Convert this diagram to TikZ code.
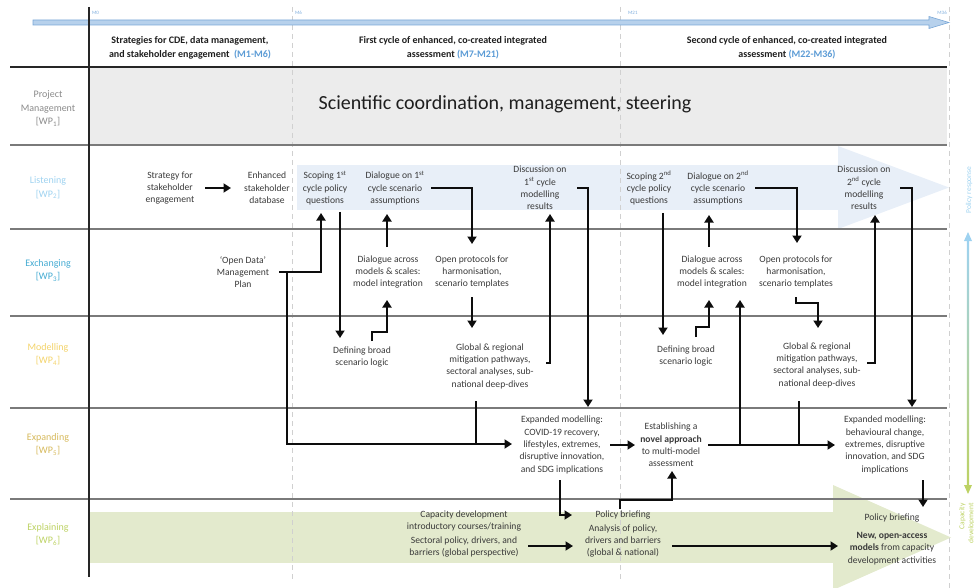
\documentclass[tikz,border=0pt]{standalone}
\usepackage{fontspec}
\setmainfont{Carlito}
\usetikzlibrary{arrows.meta,calc}
\definecolor{txt}{HTML}{3A3A3A}
\definecolor{hdrtxt}{HTML}{1E1E1E}
\definecolor{mblue}{HTML}{5B9BD5}
\definecolor{monthblue}{HTML}{7FAEDD}
\definecolor{tlfill}{HTML}{B7D1EC}
\definecolor{tldraw}{HTML}{7AA7D6}
\definecolor{rulegray}{HTML}{7A7A7A}
\definecolor{dashgray}{HTML}{D0D0D0}
\definecolor{mgmtfill}{HTML}{ECECEC}
\definecolor{blueband}{HTML}{E8EFF8}
\definecolor{greenband}{HTML}{E3EACD}
\definecolor{arrblk}{HTML}{0D0D0D}
\definecolor{cpm}{HTML}{8A8A8A}
\definecolor{clis}{HTML}{9ED2F0}
\definecolor{cexc}{HTML}{45ABD2}
\definecolor{cmod}{HTML}{F3D36A}
\definecolor{cexp}{HTML}{D6B95C}
\definecolor{cexl}{HTML}{BDD264}
\tikzset{
  lab/.style={font=\fontsize{9.6}{12.3}\selectfont, text=txt, align=center, inner sep=0pt},
  wplab/.style={font=\fontsize{10}{13.5}\selectfont, align=center, inner sep=0pt},
  hdr/.style={font=\bfseries\fontsize{10}{14}\selectfont, text=hdrtxt, align=center, inner sep=0pt},
  arr/.style={line width=2.5pt, draw=arrblk, -{Triangle[length=7.5pt,width=9pt]}},
  ln/.style={line width=2.5pt, draw=arrblk},
  rowrule/.style={line width=1.3pt, draw=rulegray},
  vdash/.style={draw=dashgray, line width=0.8pt, dash pattern=on 5pt off 4pt},
  month/.style={font=\fontsize{5}{6}\selectfont, text=monthblue, inner sep=0pt},
  sidelab/.style={font=\fontsize{7.5}{9}\selectfont, inner sep=0pt, rotate=90}
}
\begin{document}
\begin{tikzpicture}[x=1pt,y=-1pt]
\useasboundingbox (0,0) rectangle (974,588);
% background fills
\fill[mgmtfill] (89,68) rectangle (947,145);
\fill[blueband] (297,165) rectangle (838,210);
\fill[blueband] (838,146) -- (949,187.5) -- (838,229) -- cycle;
\fill[greenband] (89,512) rectangle (833,563);
\fill[greenband] (833,485) -- (951,537.5) -- (833,590) -- cycle;
% dashed milestones
\draw[vdash] (292,7) -- (292,582);
\draw[vdash] (620,7) -- (620,582);
\draw[vdash] (949,7) -- (949,588);
% timeline
\draw[tldraw, fill=tlfill, line width=0.6pt] (33,20) -- (929,20) -- (929,16.5) -- (949,22.5) -- (929,28.5) -- (929,25) -- (33,25) -- cycle;
\node[month, anchor=west] (m0) at (92,13) {M0};
\node[month, anchor=west] (m6) at (295,13) {M6};
\node[month, anchor=west] (m21) at (628,13) {M21};
\node[month, anchor=east] (m36) at (947,13) {M36};
% rules
\draw[line width=1.6pt, draw=black!85] (10,67) -- (947,67);
\draw[rowrule] (10,145) -- (947,145);
\draw[rowrule] (10,229) -- (947,229);
\draw[rowrule] (10,316) -- (947,316);
\draw[rowrule] (10,408) -- (947,408);
\draw[rowrule] (10,499) -- (947,499);
\draw[line width=1.8pt, draw=black!85] (89,7) -- (89,577);
% headers
\node[hdr] (h1) at (190,48) {Strategies for CDE, data management,\\and stakeholder engagement~~\textcolor{mblue}{(M1-M6)}};
\node[hdr] (h2) at (453,48) {First cycle of enhanced, co-created integrated\\assessment \textcolor{mblue}{(M7-M21)}};
\node[hdr] (h3) at (787,48) {Second cycle of enhanced, co-created integrated\\assessment \textcolor{mblue}{(M22-M36)}};
% WP labels
\node[wplab, text=cpm] (wp1) at (48,108.5) {Project\\Management\\{[}WP\textsubscript{1}{]}};
\node[wplab, text=clis] (wp2) at (48,188) {Listening\\{[}WP\textsubscript{2}{]}};
\node[wplab, text=cexc] (wp3) at (48,270.5) {Exchanging\\{[}WP\textsubscript{3}{]}};
\node[wplab, text=cmod] (wp4) at (48,354.5) {Modelling\\{[}WP\textsubscript{4}{]}};
\node[wplab, text=cexp] (wp5) at (48,444.5) {Expanding\\{[}WP\textsubscript{5}{]}};
\node[wplab, text=cexl] (wp6) at (48,534.5) {Explaining\\{[}WP\textsubscript{6}{]}};
% management
\node[font=\fontsize{20}{24}\selectfont, text=hdrtxt, inner sep=0pt] (sci) at (505,104) {Scientific coordination, management, steering};
% listening
\node[lab] (strat) at (170,188) {Strategy for\\stakeholder\\engagement};
\node[lab] (enh) at (267,188) {Enhanced\\stakeholder\\database};
\node[lab] (scop1) at (325,188) {Scoping 1\textsuperscript{st}\\cycle policy\\questions};
\node[lab] (dial1) at (395,188) {Dialogue on 1\textsuperscript{st}\\cycle scenario\\assumptions};
\node[lab] (disc1) at (540,188) {Discussion on\\1\textsuperscript{st} cycle\\modelling\\results};
\node[lab] (scop2) at (649,188) {Scoping 2\textsuperscript{nd}\\cycle policy\\questions};
\node[lab] (dial2) at (718,188) {Dialogue on 2\textsuperscript{nd}\\cycle scenario\\assumptions};
\node[lab] (disc2) at (864,188) {Discussion on\\2\textsuperscript{nd} cycle\\modelling\\results};
% exchanging
\node[lab] (odm) at (243,272) {`Open Data'\\Management\\Plan};
\node[lab] (across1) at (388,272) {Dialogue across\\models \& scales:\\model integration};
\node[lab] (proto1) at (472,272) {Open protocols for\\harmonisation,\\scenario templates};
\node[lab] (across2) at (712,272) {Dialogue across\\models \& scales:\\model integration};
\node[lab] (proto2) at (796,272) {Open protocols for\\harmonisation,\\scenario templates};
% modelling
\node[lab] (def1) at (362,357) {Defining broad\\scenario logic};
\node[lab] (glob1) at (490,366) {Global \& regional\\mitigation pathways,\\sectoral analyses, sub-\\national deep-dives};
\node[lab] (def2) at (686,356) {Defining broad\\scenario logic};
\node[lab] (glob2) at (817,365) {Global \& regional\\mitigation pathways,\\sectoral analyses, sub-\\national deep-dives};
% expanding
\node[lab] (exp1) at (562,445) {Expanded modelling:\\COVID-19 recovery,\\lifestyles, extremes,\\disruptive innovation,\\and SDG implications};
\node[lab] (novel) at (671,445) {Establishing a\\\textbf{novel approach}\\to multi-model\\assessment};
\node[lab] (exp2) at (885,445) {Expanded modelling:\\behavioural change,\\extremes, disruptive\\innovation, and SDG\\implications};
% explaining
\node[lab] (capdev) at (464,521) {Capacity development\\introductory courses/training};
\node[lab] (sect) at (464,547) {Sectoral policy, drivers, and\\barriers (global perspective)};
\node[lab] (pb1) at (623,515) {Policy briefing};
\node[lab] (anal) at (623,541) {Analysis of policy,\\drivers and barriers\\(global \& national)};
\node[lab] (pb2) at (892,518) {Policy briefing};
\node[lab] (newm) at (892,548.5) {\textbf{New, open-access}\\\textbf{models} from capacity\\development activities};
% side arrow
\shade[top color=clis, bottom color=cexl] (966.9,240) rectangle (969.1,486);
\fill[clis] (968,232) -- (972,241) -- (964,241) -- cycle;
\fill[cexl] (968,494) -- (972,485) -- (964,485) -- cycle;
\node[sidelab, text=clis] (polresp) at (969,190) {Policy response};
\node[sidelab, text=cexl, align=right, anchor=north east] (capside) at (959,503) {Capacity\\development};
% connectors
\draw[arr] ($(strat)+(35,0)$) -- ($(enh)+(-36,0)$);
\draw[arr] ($(odm)+(36,0)$) -| ($(scop1)+(-4,25)$);
\draw[arr] ($(odm)+(44,0)$) |- ($(exp1)+(-50,-1)$);
\draw[ln] ($(glob1)+(-14,35)$) -- ++(0,43);
\draw[arr] ($(scop1)+(15,24)$) -- ($(def1)+(-22,-19)$);
\draw[arr] ($(def1)+(10,-16)$) -- ++(0,-9) -| ($(across1)+(-1,28)$);
\draw[arr] ($(across1)+(-1,-25)$) -- ($(dial1)+(-8,26)$);
\draw[arr] ($(dial1)+(36,0)$) -| ($(proto1)+(0,-28)$);
\draw[arr] ($(proto1)+(0,25)$) -- ($(glob1)+(-18,-38)$);
\draw[arr] ($(glob1)+(56,-3)$) -| ($(disc1)+(10,26)$);
\draw[arr] ($(disc1)+(37,0)$) -| ($(exp1)+(26,-38)$);
\draw[arr] ($(exp1)+(48,0)$) -- ($(novel)+(-36,0)$);
\draw[arr] ($(exp1)+(-2,35)$) |- ($(pb1)+(-51,0)$);
\draw[arr] ($(sect)+(64,-1)$) -- ($(anal)+(-50,5)$);
\draw[arr] ($(pb1)+(-3,-6)$) -- ++(0,-9) -| ($(novel)+(1,26)$);
\draw[arr] ($(anal)+(49,5)$) -- ($(newm)+(-54,-2.5)$);
\draw[arr] ($(novel)+(37,0)$) -- ($(exp2)+(-50,0)$);
\draw[arr] ($(novel)+(69,0)$) -- ($(across2)+(28,28)$);
\draw[ln] ($(glob2)+(-18,36)$) -- ++(0,44);
\draw[arr] ($(scop2)+(14,25)$) -- ($(def2)+(-23,-21)$);
\draw[arr] ($(def2)+(10,-19)$) -- ++(0,-10) -| ($(across2)+(-3,28)$);
\draw[arr] ($(across2)+(-3,-25)$) -- ($(dial2)+(-9,27)$);
\draw[arr] ($(dial2)+(37,0)$) -| ($(proto2)+(1,-29)$);
\draw[arr] ($(proto2)+(0,25)$) -- ++(0,6) -| ($(glob2)+(1,-37)$);
\draw[arr] ($(glob2)+(50,-2)$) -| ($(disc2)+(11,27)$);
\draw[arr] ($(disc2)+(36,0)$) -| ($(exp2)+(27,-38)$);
\draw[arr] ($(exp2)+(38,35)$) -- ($(pb2)+(31,-11)$);
\end{tikzpicture}
\end{document}
